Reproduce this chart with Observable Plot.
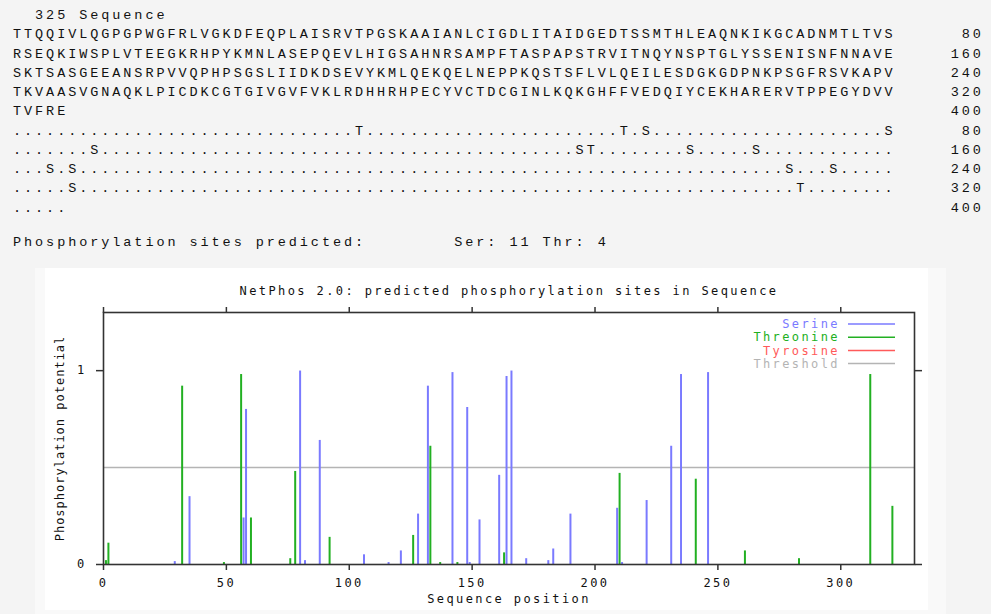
<!DOCTYPE html>
<html>
<head>
<meta charset="utf-8">
<script src="https://cdn.jsdelivr.net/npm/d3@7"></script>
<script src="https://cdn.jsdelivr.net/npm/@observablehq/plot@0.6"></script>
<style>
  html, body { margin: 0; padding: 0; width: 991px; height: 614px; overflow: hidden; background: #f4f4f4; }
  #report {
    position: absolute; left: 13px; top: 6px; margin: 0;
    font-family: "Liberation Mono", monospace; font-size: 13.5px; letter-spacing: 2.93px;
    line-height: 19.25px; color: #111; white-space: pre;
  }
  #report .summary { position: relative; top: -4px; }
  #frameBox { position: absolute; left: 35px; top: 268px; width: 911px; height: 346px; background: #f9f9f9; }
  #chart { position: absolute; left: 45px; top: 268px; width: 883px; height: 342px; background: #fff; }
  #chart svg text { letter-spacing: 2.4px; }
</style>
</head>
<body>
<pre id="report"></pre>
<div id="frameBox"></div>
<div id="chart"></div>
<script>
// Protein sequence (325 residues)
const sequence =
  "TTQQIVLQGPGPWGFRLVGKDFEQPLAISRVTPGSKAAIANLCIGDLITAIDGEDTSSMTHLEAQNKIKGCADNMTLTVS" +
  "RSEQKIWSPLVTEEGKRHPYKMNLASEPQEVLHIGSAHNRSAMPFTASPAPSTRVITNQYNSPTGLYSSENISNFNNAVE" +
  "SKTSASGEEANSRPVVQPHPSGSLIIDKDSEVYKMLQEKQELNEPPKQSTSFLVLQEILESDGKGDPNKPSGFRSVKAPV" +
  "TKVAASVGNAQKLPICDKCGTGIVGVFVKLRDHHRHPECYVCTDCGINLKQKGHFFVEDQIYCEKHARERVTPPEGYDVV" +
  "TVFRE";
const sequenceName = "Sequence";

// Serine sites and their phosphorylation potential
const serinePositions = [29, 35, 57, 58, 80, 82, 88, 106, 116, 121, 128, 132, 142, 148, 149, 153,
  161, 164, 166, 172, 181, 183, 190, 209, 211, 221, 231, 235, 246];
const serineScores = [0.015, 0.35, 0.24, 0.80, 0.998, 0.02, 0.64, 0.05, 0.01, 0.07, 0.26, 0.92, 0.99, 0.81, 0.01, 0.23,
  0.46, 0.97, 0.998, 0.03, 0.02, 0.08, 0.26, 0.29, 0.01, 0.33, 0.61, 0.98, 0.99];

// Threonine sites and their phosphorylation potential
const threoninePositions = [1, 2, 32, 49, 56, 60, 76, 78, 92, 126, 133, 137, 144, 163, 210, 241, 261, 283, 312, 321];
const threonineScores = [0.02, 0.11, 0.92, 0.01, 0.98, 0.24, 0.03, 0.48, 0.14, 0.15, 0.61, 0.01, 0.01, 0.06, 0.47, 0.44, 0.07, 0.03, 0.98, 0.30];

// Tyrosine sites with a visible potential (none)
const tyrosinePositions = [];
const tyrosineScores = [];

const threshold = 0.5;
const xTicks = [0, 50, 100, 150, 200, 250, 300];
const yTicks = [0, 1];

const seriesNames = ["Serine", "Threonine", "Tyrosine", "Threshold"];
const seriesColors = ["#7a7aff", "#22b022", "#ff5a5a", "#b4b4b4"];

const title = `NetPhos 2.0: predicted phosphorylation sites in ${sequenceName}`;
const xLabel = "Sequence position";
const yLabel = "Phosphorylation potential";

const toRows = (positions, scores, residue) =>
  positions.map((pos, i) => ({pos, score: scores[i], residue}));
const serine = toRows(serinePositions, serineScores, "S");
const threonine = toRows(threoninePositions, threonineScores, "T");
const tyrosine = toRows(tyrosinePositions, tyrosineScores, "Y");

// ---- Text report: sequence and predicted sites, 80 residues per line ----
const predicted = new Map();
for (const d of [...serine, ...threonine, ...tyrosine]) if (d.score > threshold) predicted.set(d.pos, d.residue);

const lineLen = 80;
const lines = [`  ${sequence.length} ${sequenceName}`];
const seqLines = [], siteLines = [];
for (let start = 0; start < 400; start += lineLen) {
  const chunk = sequence.slice(start, start + lineLen);
  const label = String(start + lineLen).padStart(8);
  let sites = "";
  for (let k = 0; k < chunk.length; k++) sites += predicted.get(start + k + 1) || ".";
  seqLines.push(chunk.padEnd(lineLen) + label);
  siteLines.push(sites.padEnd(lineLen) + label);
}
lines.push(...seqLines, ...siteLines, "", "");
const nSer = serine.filter(d => d.score > threshold).length;
const nThr = threonine.filter(d => d.score > threshold).length;
const report = document.getElementById("report");
report.textContent = lines.join("\n");
const summary = document.createElement("span");
summary.className = "summary";
summary.textContent = `Phosphorylation sites predicted:        Ser: ${nSer} Thr: ${nThr}`;
report.appendChild(summary);

// ---- Chart ----
const W = 883, H = 342;
const mLeft = 58, mRight = 14, mTop = 44, mBottom = 46;
const axisColor = "#333";

const plot = Plot.plot({
  width: W, height: H,
  marginLeft: mLeft, marginRight: mRight, marginTop: mTop, marginBottom: mBottom,
  style: {background: "#fff", fontFamily: "DejaVu Sans Mono", fontSize: "12px", color: "#111", overflow: "visible"},
  x: {domain: [0, 330]},
  y: {domain: [0, 1.3]},
  marks: [
    Plot.ruleY([threshold], {stroke: seriesColors[3], strokeWidth: 1.5}),
    Plot.ruleX(serine, {x: "pos", y1: 0, y2: "score", stroke: seriesColors[0], strokeWidth: 2}),
    Plot.ruleX(threonine, {x: "pos", y1: 0, y2: "score", stroke: seriesColors[1], strokeWidth: 2}),
    Plot.ruleX(tyrosine, {x: "pos", y1: 0, y2: "score", stroke: seriesColors[2], strokeWidth: 2}),
    Plot.frame({stroke: axisColor, strokeWidth: 1.6}),
    Plot.axisX(xTicks, {anchor: "bottom", tickSize: 6, tickPadding: 8, tickFormat: d3.format("d"), label: null, stroke: axisColor, strokeWidth: 1.5}),
    Plot.axisX(xTicks, {anchor: "top", tickSize: 6, tickFormat: () => "", label: null, stroke: axisColor, strokeWidth: 1.5}),
    Plot.axisY(yTicks, {anchor: "left", tickSize: 7, tickPadding: 10, tickFormat: d3.format("d"), label: null, stroke: axisColor, strokeWidth: 1.5}),
    Plot.axisY(yTicks, {anchor: "right", tickSize: 7, tickFormat: () => "", label: null, stroke: axisColor, strokeWidth: 1.5}),
    Plot.text([title], {text: d => d, frameAnchor: "top", dy: -26, fill: "#111"}),
    Plot.text([xLabel], {text: d => d, frameAnchor: "bottom", dy: 38, fill: "#111"}),
    Plot.text([yLabel], {text: d => d, frameAnchor: "left", dx: -43, rotate: -90, textAnchor: "middle", fill: "#111"})
  ]
});

const svg = d3.select(plot);
svg.selectAll("text").filter(function () { return this.textContent === yLabel; })
  .style("letter-spacing", "1px");

// Legend in the upper right corner of the frame
const legend = svg.append("g").attr("transform", `translate(${W - mRight},${mTop})`);
seriesNames.forEach((name, i) => {
  const y = 12 + i * 13.2;
  legend.append("text")
    .attr("x", -74).attr("y", y).attr("dy", "0.35em")
    .attr("text-anchor", "end").attr("fill", seriesColors[i])
    .text(name);
  legend.append("line")
    .attr("x1", -66).attr("x2", -19).attr("y1", y).attr("y2", y)
    .attr("stroke", seriesColors[i]).attr("stroke-width", 1.5);
});

document.getElementById("chart").appendChild(plot);
</script>
</body>
</html>
